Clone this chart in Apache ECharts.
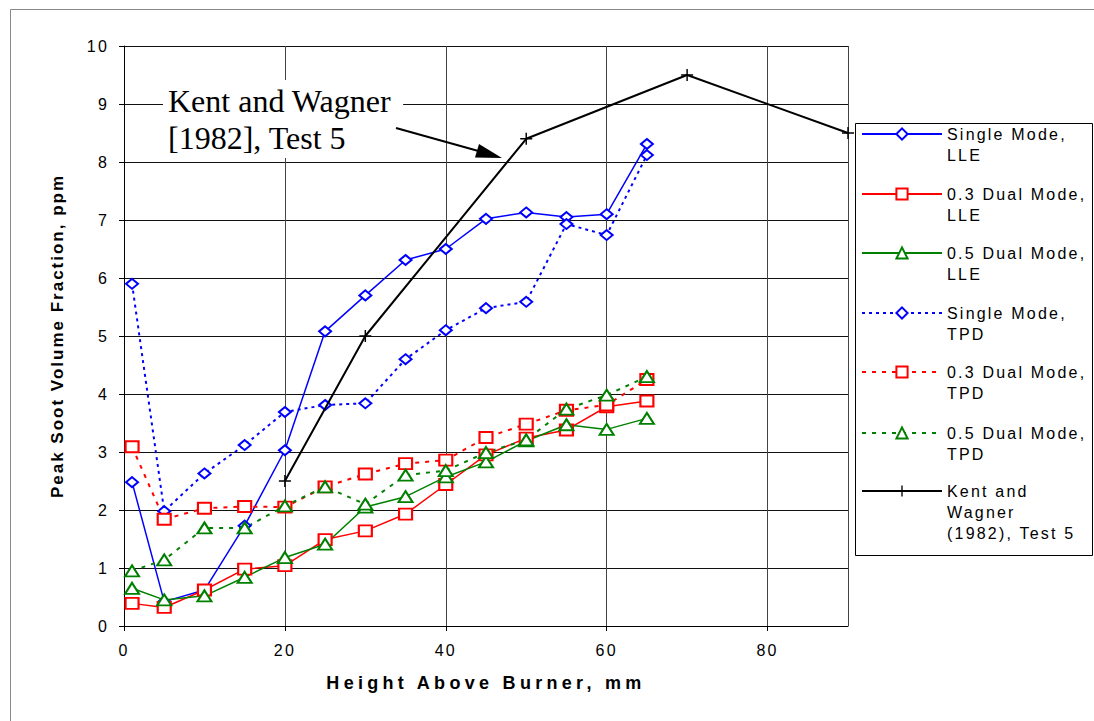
<!DOCTYPE html>
<html>
<head>
<meta charset="utf-8">
<script src="https://cdn.jsdelivr.net/npm/echarts@6/dist/echarts.min.js"></script>
<style>
  html, body { margin: 0; padding: 0; background: #fff; }
  #chart { width: 1094px; height: 721px; }
</style>
</head>
<body>
<div id="chart"></div>
<script>
// ---- data ----
const heights = [1, 5, 10, 15, 20, 25, 30, 35, 40, 45, 50, 55, 60, 65];
const singleLLE = [2.48, 0.42, 0.62, 1.73, 3.03, 5.08, 5.70, 6.31, 6.50, 7.02, 7.13, 7.05, 7.10, 8.31];
const dual03LLE = [0.39, 0.32, 0.62, 0.98, 1.04, 1.49, 1.64, 1.93, 2.44, 2.95, 3.24, 3.38, 3.78, 3.88];
const dual05LLE = [0.65, 0.45, 0.52, 0.84, 1.18, 1.41, 2.05, 2.23, 2.57, 2.83, 3.19, 3.47, 3.39, 3.58];
const singleTPD = [5.90, 1.98, 2.63, 3.12, 3.69, 3.81, 3.84, 4.60, 5.10, 5.48, 5.59, 6.93, 6.74, 8.12];
const dual03TPD = [3.09, 1.84, 2.03, 2.06, 2.05, 2.40, 2.62, 2.80, 2.86, 3.25, 3.48, 3.72, 3.81, 4.25];
const dual05TPD = [0.95, 1.14, 1.69, 1.69, 2.07, 2.40, 2.10, 2.60, 2.68, 2.99, 3.21, 3.74, 3.98, 4.30];
const kwX = [20, 30, 50, 70, 90];
const kwY = [2.5, 5.0, 8.4, 9.5, 8.5];

const seriesNames = [
  'Single Mode, LLE', '0.3 Dual Mode, LLE', '0.5 Dual Mode, LLE',
  'Single Mode, TPD', '0.3 Dual Mode, TPD', '0.5 Dual Mode, TPD',
  'Kent and Wagner (1982), Test 5'
];
const legendLabels = [
  'Single Mode,\nLLE', '0.3 Dual Mode,\nLLE', '0.5 Dual Mode,\nLLE',
  'Single Mode,\nTPD', '0.3 Dual Mode,\nTPD', '0.5 Dual Mode,\nTPD',
  'Kent and\nWagner\n(1982), Test 5'
];
const xAxisName = 'Height Above Burner, mm';
const yAxisName = 'Peak Soot Volume Fraction, ppm';
const annotationText = 'Kent and Wagner\n[1982], Test 5';

const xTicks = { min: 0, max: 90, interval: 20 };
const yTicks = { min: 0, max: 10, interval: 1 };

// ---- helpers ----
const pairs = (xs, ys) => xs.map((x, i) => [x, ys[i]]);
const SANS = "'Liberation Sans', Arial, sans-serif";
const BLUE = '#0000ff', RED = '#ff0000', GREEN = '#008000';
const PLUS = 'path://M4.4,0H5.6V4.4H10V5.6H5.6V10H4.4V5.6H0V4.4H4.4Z';

function mkSeries(idx, ys, color, symbol, size, dashed, dash) {
  return {
    name: seriesNames[idx],
    type: 'line',
    data: pairs(heights, ys),
    symbol: symbol,
    symbolSize: size,
    showAllSymbol: true,
    clip: false,
    lineStyle: { color: color, width: dashed ? 2 : 1.5, type: dashed ? dash : 'solid' },
    itemStyle: { color: color, borderWidth: 1.8 },
    z: 3
  };
}

const series = [
  mkSeries(0, singleLLE, BLUE, 'emptyDiamond', [12, 10], false),
  mkSeries(1, dual03LLE, RED, 'emptyRect', [13, 11], false),
  mkSeries(2, dual05LLE, GREEN, 'emptyTriangle', [14, 11], false),
  mkSeries(3, singleTPD, BLUE, 'emptyDiamond', [12, 10], true, [3, 4]),
  mkSeries(4, dual03TPD, RED, 'emptyRect', [13, 11], true, [4, 6]),
  mkSeries(5, dual05TPD, GREEN, 'emptyTriangle', [14, 11], true, [4, 6]),
  {
    name: seriesNames[6],
    type: 'line',
    data: pairs(kwX, kwY),
    symbol: PLUS,
    symbolSize: 12,
    clip: false,
    lineStyle: { color: '#000', width: 2 },
    itemStyle: { color: '#000' },
    z: 4
  }
];

// one legend per entry; blank leading lines keep the icon level with the first text line
const LH = 21;
const legendIconCenters = [134, 194, 253, 313, 372, 433, 491];
const legends = seriesNames.map((name, i) => {
  const lines = legendLabels[i].split('\n').length;
  const blanks = lines - 1;
  const total = lines + blanks;
  return {
    data: [name],
    orient: 'vertical',
    left: 861,
    top: legendIconCenters[i] - total * LH / 2,
    padding: 0,
    itemWidth: 80,
    itemHeight: 14,
    itemGap: 0,
    selectedMode: false,
    z: 20,
    formatter: () => '\n'.repeat(blanks) + legendLabels[i],
    textStyle: { fontFamily: SANS, fontSize: 16, color: '#000', lineHeight: LH }
  };
});

const option = {
  animation: false,
  backgroundColor: '#fff',
  grid: { left: 124, top: 46, right: 246, bottom: 95, containLabel: false },
  xAxis: {
    type: 'value',
    min: xTicks.min, max: xTicks.max, interval: xTicks.interval,
    name: xAxisName,
    nameLocation: 'middle',
    nameGap: 48,
    nameTextStyle: { fontFamily: SANS, fontSize: 18, fontWeight: 'bold', color: '#000' },
    axisLine: { show: true, onZero: false, lineStyle: { color: '#000', width: 1 } },
    axisTick: { show: true, inside: false, length: 5, lineStyle: { color: '#000' } },
    axisLabel: { fontFamily: SANS, fontSize: 16, color: '#000', margin: 16, showMaxLabel: false },
    splitLine: { show: true, lineStyle: { color: '#444', width: 1 } }
  },
  yAxis: {
    type: 'value',
    min: yTicks.min, max: yTicks.max, interval: yTicks.interval,
    name: yAxisName,
    nameLocation: 'middle',
    nameRotate: 90,
    nameGap: 58,
    nameTextStyle: { fontFamily: SANS, fontSize: 17, fontWeight: 'bold', color: '#000' },
    axisLine: { show: true, lineStyle: { color: '#000', width: 1 } },
    axisTick: { show: true, inside: false, length: 5, lineStyle: { color: '#000' } },
    axisLabel: { fontFamily: SANS, fontSize: 16, color: '#000', margin: 15 },
    splitLine: { show: true, lineStyle: { color: '#111', width: 1 } }
  },
  legend: legends,
  graphic: [
    { type: 'rect', left: 8, top: 7, z: -10, silent: true,
      shape: { width: 1120, height: 740 },
      style: { fill: 'none', stroke: '#888', lineWidth: 1 } },
    { type: 'rect', left: 853, top: 121, z: 1, silent: true,
      shape: { width: 237, height: 432 },
      style: { fill: 'none', stroke: '#000', lineWidth: 1 } },
    { type: 'text', left: 163, top: 80, z: 100, silent: true,
      style: {
        text: annotationText,
        font: "32px 'Liberation Serif', 'Times New Roman', serif",
        lineHeight: 37,
        fill: '#000',
        backgroundColor: '#fff',
        padding: [2, 12, 2, 5]
      } },
    { type: 'line', z: 100, silent: true,
      shape: { x1: 396, y1: 128, x2: 482, y2: 152 },
      style: { stroke: '#000', lineWidth: 2 } },
    { type: 'polygon', z: 100, silent: true,
      shape: { points: [[502, 158], [475, 157.6], [479, 144]] },
      style: { fill: '#000' } }
  ],
  series: series
};

const dom = document.getElementById('chart');
const chart = echarts.init(dom, null, { renderer: 'svg', width: 1094, height: 721 });
chart.setOption(option);

// letter spacing similar to the reference's rasterised Arial text
function applySpacing() {
  const annLines = annotationText.split('\n');
  dom.querySelectorAll('svg text').forEach(t => {
    const s = t.textContent;
    if (annLines.indexOf(s) >= 0) return;
    if (s === xAxisName) t.style.letterSpacing = '4.3px';
    else if (s === yAxisName) t.style.letterSpacing = '2px';
    else t.style.letterSpacing = '2.2px';
  });
}
applySpacing();
</script>
</body>
</html>
